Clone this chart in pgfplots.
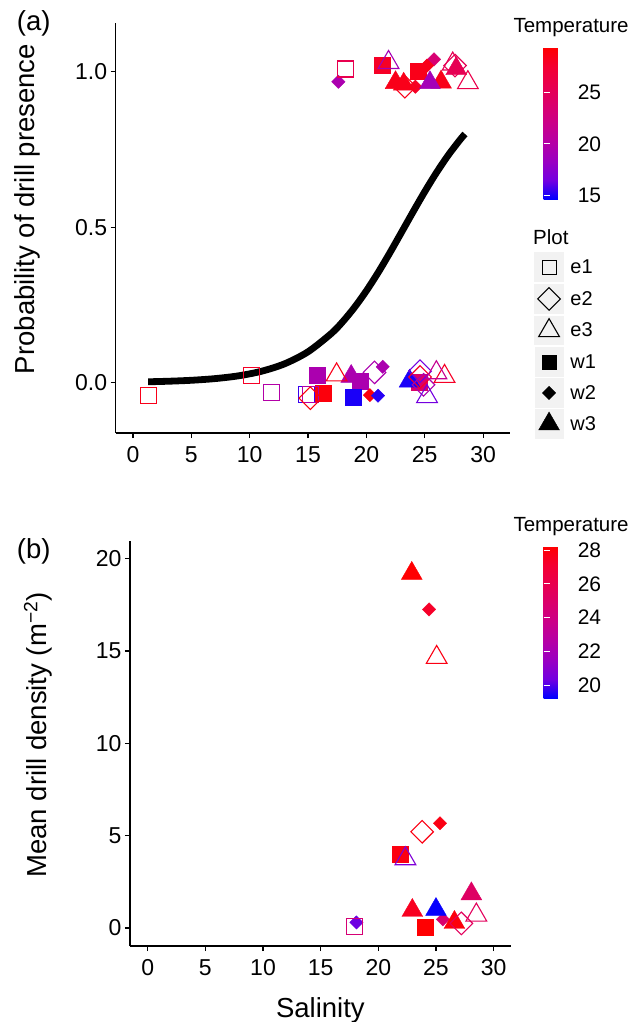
\documentclass[border=0pt]{standalone}
\usepackage{pgfplots}
\pgfplotsset{compat=1.18}
\usepackage{fontspec}
\setmainfont{Liberation Sans}

\definecolor{keygray}{HTML}{F2F2F2}
\newcommand\ticksize{\fontsize{23}{27}\selectfont}
\newcommand\titlesize{\fontsize{27.5}{32}\selectfont}
\newcommand\legsize{\fontsize{20}{24}\selectfont}
\newcommand\cbsize{\fontsize{21}{25}\selectfont}
\newcommand\legtitle{\fontsize{20.5}{24}\selectfont}

\pgfplotsset{
  colormap={temp}{rgb255=(0,0,255) rgb255=(115,0,224) rgb255=(154,0,194)
    rgb255=(181,0,165) rgb255=(202,0,137) rgb255=(218,0,108)
    rgb255=(232,0,79) rgb255=(244,0,49) rgb255=(255,0,0)},
  panel/.style={
    scale only axis, anchor=south west,
    axis lines=left, axis line style={-, line width=1.3pt},
    tick align=outside, major tick length=5pt,
    tick style={black, line width=1.1pt},
    ticklabel style={font=\ticksize},
    xticklabel style={yshift=-5pt},
    /pgf/number format/assume math mode=true,
    label style={font=\titlesize},
    colormap name=temp, colorbar,
  },
  cbar/.style={
    at={(parent axis.north east)}, anchor=north west,
    scale only axis, width=30.7pt, height=152pt,
    axis line style={draw=none}, axis on top,
    tick align=inside, major tick length=6pt,
    ytick pos=both, yticklabel pos=right,
    ytick style={draw=white, line width=1pt},
    yticklabel style={font=\cbsize},
    /pgf/number format/assume math mode=true,
  },
  openmk/.style={scatter, only marks, point meta=explicit, line width=1.1pt,
    scatter/use mapped color={draw=mapped color, fill=none}, forget plot},
  fillmk/.style={scatter, only marks, point meta=explicit, line width=0.4pt,
    scatter/use mapped color={draw=mapped color, fill=mapped color}, forget plot},
}

\begin{document}
\begin{tikzpicture}
\path[use as bounding box] (0,0) rectangle (644pt,-1022pt);

% ---------------- panel (a)
\begin{axis}[panel,
  at={(115.7pt,-433pt)}, width=394.3pt, height=410.3pt,
  xmin=-1.48, xmax=32.31, ymin=-0.162, ymax=1.158,
  xtick={0,5,...,30}, ytick={0,0.5,1},
  yticklabel style={/pgf/number format/.cd, fixed, fixed zerofill, precision=1},
  ylabel={Probability of drill presence},
  ylabel style={at={(axis description cs:-0.2237,0.546)}, anchor=center},
  point meta min=14.58, point meta max=29.44,
  colorbar style={cbar, xshift=25pt, yshift=-24.6pt, ytick={15,20,25}},
  legend style={at={(axis description cs:1.0609,0.4407)}, anchor=north west,
    draw=none, fill=none, inner sep=0pt, row sep=2pt, column sep=4.5pt, font=\legsize},
  legend cell align=left,
  legend image code/.code={
    \fill[keygray] (0pt,-14.3pt) rectangle (28.6pt,14.3pt);
    \draw[#1] plot coordinates {(14.3pt,0pt)};
  },
]
% fitted curve
\addplot[black, line width=6.8pt, smooth, forget plot] coordinates {
  (1.3,0.0028) (3,0.0045) (5,0.0076) (7,0.0129) (9,0.0217) (11,0.0365)
  (13,0.0607) (15,0.0993) (17,0.1583) (18,0.1972) (19,0.2429) (20,0.2953)
  (21,0.3536) (22,0.4168) (23,0.4828) (24,0.5493) (25,0.6142) (26,0.6752)
  (27,0.7308) (28,0.78) (28.45,0.80)
};
% w1
\addplot[fillmk, mark=square*, mark size=8pt] coordinates {
  (15.8,0.0225)[19.5] (16.3,-0.034)[29] (19.45,0.004)[19.5] (18.9,-0.047)[15]
  (24.5,0.0)[24] (21.4,1.021)[28] (24.4,1.003)[28.5]
};
% w2
\addplot[fillmk, mark=square*, mark size=4.7pt, mark options={rotate=45}] coordinates {
  (20.3,-0.04)[29] (21.0,-0.042)[15.2] (21.4,0.051)[19.5] (17.6,0.968)[19.5]
  (25.8,1.04)[23.5] (25.2,1.02)[28.5] (24.2,0.952)[28]
};
% w3
\addplot[fillmk, mark=triangle*, mark size=12pt] coordinates {
  (18.7,0.02)[19.5] (23.7,0.005)[15] (22.5,0.965)[28.5] (23.2,0.96)[28.5]
  (26.4,0.967)[28.5] (25.45,0.965)[19] (27.7,1.01)[25.5]
};
% e1
\addplot[openmk, mark=square, mark size=8pt] coordinates {
  (1.31,-0.042)[28.5] (10.17,0.0225)[28] (11.9,-0.032)[20] (14.9,-0.037)[15.5]
  (15.2,-0.037)[20] (18.2,1.009)[25.7]
};
% e2
\addplot[openmk, mark=square, mark size=8pt, mark options={rotate=45}] coordinates {
  (15.2,-0.05)[29] (20.7,0.033)[19.5] (24.6,0.037)[16.5] (24.6,0.018)[28]
  (24.9,-0.007)[19.5] (23.3,0.952)[28.5] (27.6,1.02)[25.5]
};
% e3
\addplot[openmk, mark=triangle, mark size=12pt] coordinates {
  (17.45,0.025)[28.5] (26.7,0.02)[28] (26.0,0.032)[21.5] (25.2,-0.045)[16.5]
  (21.9,1.03)[19] (28.7,0.965)[26] (27.4,1.025)[25.5]
};
\addlegendimage{only marks, mark=square, mark size=7pt, black, line width=1.1pt}
\addlegendentry{e1}
\addlegendimage{only marks, mark=square, mark size=8pt, mark options={rotate=45}, black, line width=1.1pt}
\addlegendentry{e2}
\addlegendimage{only marks, mark=triangle, mark size=12pt, black, line width=1.1pt}
\addlegendentry{e3}
\addlegendimage{only marks, mark=square*, mark size=7pt, black}
\addlegendentry{w1}
\addlegendimage{only marks, mark=square*, mark size=4.7pt, mark options={rotate=45}, black}
\addlegendentry{w2}
\addlegendimage{only marks, mark=triangle*, mark size=12pt, black}
\addlegendentry{w3}
\end{axis}

% ---------------- panel (b)
\begin{axis}[panel,
  at={(130pt,-946pt)}, width=380.7pt, height=405.3pt,
  xmin=-1.535, xmax=31.48, ymin=-0.975, ymax=20.97,
  xtick={0,5,...,30}, ytick={0,5,...,20},
  xlabel={Salinity},
  xlabel style={at={(axis description cs:0.5,-0.1769)}, anchor=base},
  ylabel={Mean drill density (m\textsuperscript{−2})},
  ylabel style={at={(axis description cs:-0.2417,0.5206)}, anchor=center},
  point meta min=19.23, point meta max=28.24,
  colorbar style={cbar, xshift=24.3pt, yshift=-5.3pt, ytick={20,22,...,28}},
]
% w1
\addplot[fillmk, mark=square*, mark size=8pt] coordinates {
  (21.94,4.0)[27.9] (24.1,0.07)[28.2]
};
% w2
\addplot[fillmk, mark=square*, mark size=4.7pt, mark options={rotate=45}] coordinates {
  (24.4,17.25)[27.3] (25.35,5.67)[27.8] (25.6,0.47)[24.8] (18.1,0.3)[20.3]
};
% w3
\addplot[fillmk, mark=triangle*, mark size=12pt] coordinates {
  (22.9,19.2)[28.2] (22.95,0.95)[27.5] (25.0,1.0)[19.3] (28.07,1.85)[25.2] (26.6,0.3)[28]
};
% e1
\addplot[openmk, mark=square, mark size=8pt] coordinates {
  (17.9,0.1)[24.5]
};
% e2
\addplot[openmk, mark=square, mark size=8pt, mark options={rotate=45}] coordinates {
  (23.8,5.21)[27.8] (27.2,0.25)[25.5]
};
% e3
\addplot[openmk, mark=triangle, mark size=12pt] coordinates {
  (25.06,14.65)[27.8] (22.35,3.75)[20.7] (28.5,0.7)[25.5]
};
\end{axis}

% titles and panel tags
\node[anchor=base west, inner sep=0pt, font=\titlesize] at (16.7pt,-30.7pt) {(a)};
\node[anchor=base west, inner sep=0pt, font=\titlesize] at (16.7pt,-558pt) {(b)};
\node[anchor=base west, inner sep=0pt, font=\legtitle] at (513.3pt,-32.5pt) {Temperature};
\node[anchor=base west, inner sep=0pt, font=\legtitle] at (513.3pt,-531.7pt) {Temperature};
\node[anchor=base west, inner sep=0pt, font=\legtitle] at (533pt,-244pt) {Plot};
\end{tikzpicture}
\end{document}
